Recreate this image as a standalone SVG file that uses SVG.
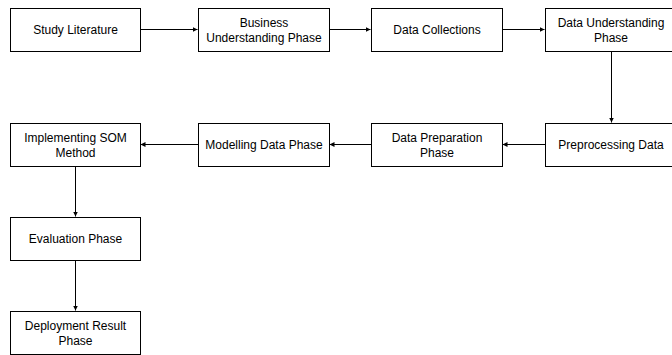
<svg xmlns="http://www.w3.org/2000/svg" width="672" height="355" viewBox="0 0 672 355">
<defs>
<marker id="ah" viewBox="0 0 10 10" refX="10" refY="5" markerWidth="5" markerHeight="5" orient="auto" markerUnits="userSpaceOnUse">
<path d="M0,0 L10,5 L0,10 z" fill="#000"/>
</marker>
</defs>
<style>
.box{fill:#fff;stroke:#000;stroke-width:1}
.t{font-family:"Liberation Sans",Arial,sans-serif;font-size:12px;fill:#000;text-anchor:middle}
.c{stroke:#000;stroke-width:1;fill:none;marker-end:url(#ah)}
</style>
<rect width="672" height="355" fill="#fff"/>
<g id="connectors">
<line class="c" x1="140.5" y1="29.5" x2="197.5" y2="29.5"/>
<line class="c" x1="329.5" y1="29.5" x2="370.5" y2="29.5"/>
<line class="c" x1="502.5" y1="29.5" x2="544.5" y2="29.5"/>
<line class="c" x1="611.5" y1="51.5" x2="611.5" y2="122.5"/>
<line class="c" x1="545.5" y1="144.5" x2="502.5" y2="144.5"/>
<line class="c" x1="371.5" y1="144.5" x2="329.5" y2="144.5"/>
<line class="c" x1="198.5" y1="144.5" x2="140.5" y2="144.5"/>
<line class="c" x1="75.5" y1="166.5" x2="75.5" y2="216.5"/>
<line class="c" x1="75.5" y1="260.5" x2="75.5" y2="310.5"/>
</g>
<g id="n1"><rect class="box" x="10.5" y="8.5" width="130" height="43"/><text class="t" x="75.5" y="34">Study Literature</text></g>
<g id="n2"><rect class="box" x="198.5" y="8.5" width="131" height="43"/><text class="t" x="264" y="26.5">Business</text><text class="t" x="264" y="41.5">Understanding Phase</text></g>
<g id="n3"><rect class="box" x="371.5" y="8.5" width="131" height="43"/><text class="t" x="437" y="34">Data Collections</text></g>
<g id="n4"><rect class="box" x="545.5" y="8.5" width="131" height="43"/><text class="t" x="611" y="26.5">Data Understanding</text><text class="t" x="611" y="41.5">Phase</text></g>
<g id="n5"><rect class="box" x="545.5" y="123.5" width="131" height="43"/><text class="t" x="611" y="149">Preprocessing Data</text></g>
<g id="n6"><rect class="box" x="371.5" y="123.5" width="131" height="43"/><text class="t" x="437" y="141.5">Data Preparation</text><text class="t" x="437" y="156.5">Phase</text></g>
<g id="n7"><rect class="box" x="198.5" y="123.5" width="131" height="43"/><text class="t" x="264" y="149">Modelling Data Phase</text></g>
<g id="n8"><rect class="box" x="10.5" y="123.5" width="130" height="43"/><text class="t" x="75.5" y="141.5">Implementing SOM</text><text class="t" x="75.5" y="156.5">Method</text></g>
<g id="n9"><rect class="box" x="10.5" y="217.5" width="130" height="43"/><text class="t" x="75.5" y="243">Evaluation Phase</text></g>
<g id="n10"><rect class="box" x="10.5" y="311.5" width="130" height="43"/><text class="t" x="75.5" y="329.5">Deployment Result</text><text class="t" x="75.5" y="344.5">Phase</text></g>
</svg>
